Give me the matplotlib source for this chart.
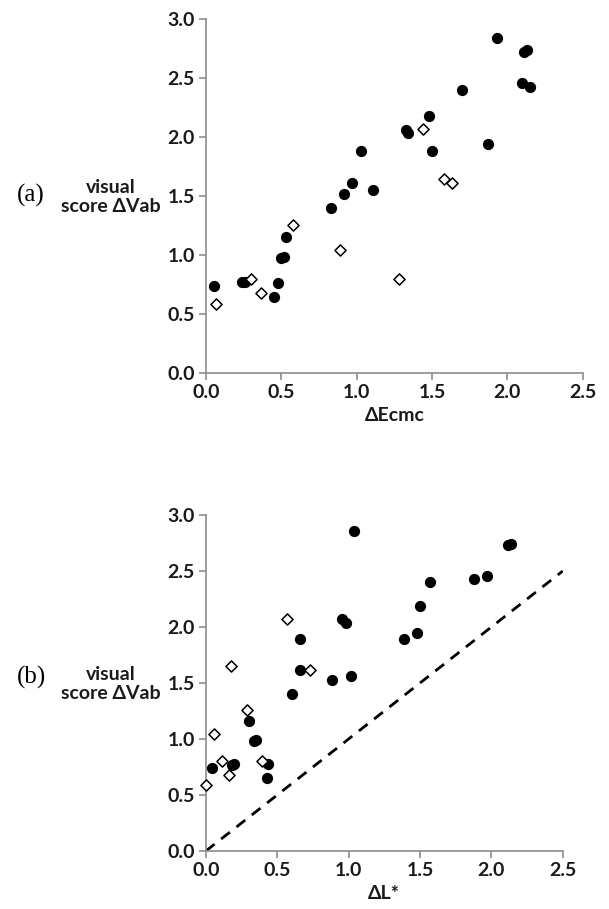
import numpy as np
import matplotlib.pyplot as plt

# panel (a): visual score vs dEcmc
a_filled_x = [0.055, 0.24, 0.26, 0.45, 0.48, 0.50, 0.52, 0.53, 0.83, 0.915, 0.97, 1.03,
              1.11, 1.33, 1.34, 1.48, 1.50, 1.70, 1.87, 1.93, 2.11, 2.13, 2.10, 2.15]
a_filled_y = [0.74, 0.77, 0.77, 0.645, 0.765, 0.975, 0.985, 1.155, 1.40, 1.52, 1.61, 1.88,
              1.55, 2.06, 2.03, 2.18, 1.88, 2.40, 1.94, 2.84, 2.72, 2.735, 2.455, 2.42]
a_open_x = [0.066, 0.30, 0.365, 0.58, 0.89, 1.28, 1.44, 1.58, 1.63]
a_open_y = [0.585, 0.80, 0.675, 1.25, 1.04, 0.80, 2.065, 1.64, 1.61]

# panel (b): visual score vs dL*
b_filled_x = [1.036, 2.12, 2.135, 1.88, 1.97, 1.57, 1.50, 0.955, 0.98, 0.66, 1.39, 1.48,
              0.66, 0.885, 1.02, 0.607, 0.30, 0.335, 0.35, 0.18, 0.195, 0.434, 0.042, 0.425]
b_filled_y = [2.855, 2.73, 2.74, 2.43, 2.46, 2.40, 2.19, 2.07, 2.04, 1.89, 1.89, 1.95,
              1.62, 1.53, 1.56, 1.40, 1.16, 0.98, 0.99, 0.77, 0.775, 0.774, 0.744, 0.65]
b_open_x = [0.57, 0.175, 0.73, 0.29, 0.056, 0.114, 0.39, 0.16, 0.0]
b_open_y = [2.07, 1.65, 1.62, 1.255, 1.045, 0.806, 0.806, 0.68, 0.59]

unity_line = [0.0, 2.5]

ticks = [0.0, 0.5, 1.0, 1.5, 2.0, 2.5, 3.0]

fig = plt.figure(figsize=(6.09, 9.09), dpi=100)
ax_a = fig.add_axes([0.338, 0.5897, 0.619, 0.3894])
ax_b = fig.add_axes([0.338, 0.0638, 0.586, 0.3696])

sans = ['Lato', 'DejaVu Sans']
tick_font = dict(family=sans, weight='bold', size=14)


def style_axes(ax, xlabel, panel, label_y, panel_y):
    ax.set_xlim(0, 2.5)
    ax.set_ylim(0, 3.0)
    ax.set_xticks(ticks[:6])
    ax.set_yticks(ticks)
    ax.set_xticklabels(["%.1f" % t for t in ticks[:6]], **tick_font, color='#1a1a1a')
    ax.set_yticklabels(["%.1f" % t for t in ticks], **tick_font, color='#1a1a1a')
    for side in ['top', 'right']:
        ax.spines[side].set_visible(False)
    for side in ['left', 'bottom']:
        ax.spines[side].set_color('#8c8c8c')
        ax.spines[side].set_linewidth(1.2)
    ax.tick_params(direction='out', length=5, width=1.2, color='#8c8c8c', pad=3)
    ax.set_xlabel(xlabel, family=sans, weight='bold', size=14, color='#1a1a1a', labelpad=4)
    fig.text(111 / 609, 1 - label_y / 909, "visual\nscore \u0394Vab", ha='center', va='center',
             family=sans, weight='bold', size=14, color='#1a1a1a', linespacing=1.1)
    fig.text(31 / 609, 1 - panel_y / 909, panel, ha='center', va='center',
             family='Liberation Serif', size=18)


ax_a.scatter(a_filled_x, a_filled_y, s=50, c='black', zorder=3, clip_on=False)
ax_a.scatter(a_open_x, a_open_y, s=32, marker='D', facecolors='white', edgecolors='black',
             linewidths=1.1, zorder=3, clip_on=False)
style_axes(ax_a, "\u0394Ecmc", "(a)", 197, 195)

ax_b.plot(unity_line, unity_line, color='black', linestyle=(0, (4, 3)), linewidth=2, zorder=2)
ax_b.scatter(b_filled_x, b_filled_y, s=50, c='black', zorder=3, clip_on=False)
ax_b.scatter(b_open_x, b_open_y, s=32, marker='D', facecolors='white', edgecolors='black',
             linewidths=1.1, zorder=3, clip_on=False)
style_axes(ax_b, "\u0394L*", "(b)", 684, 677)

fig.savefig("out.png", dpi=100)
